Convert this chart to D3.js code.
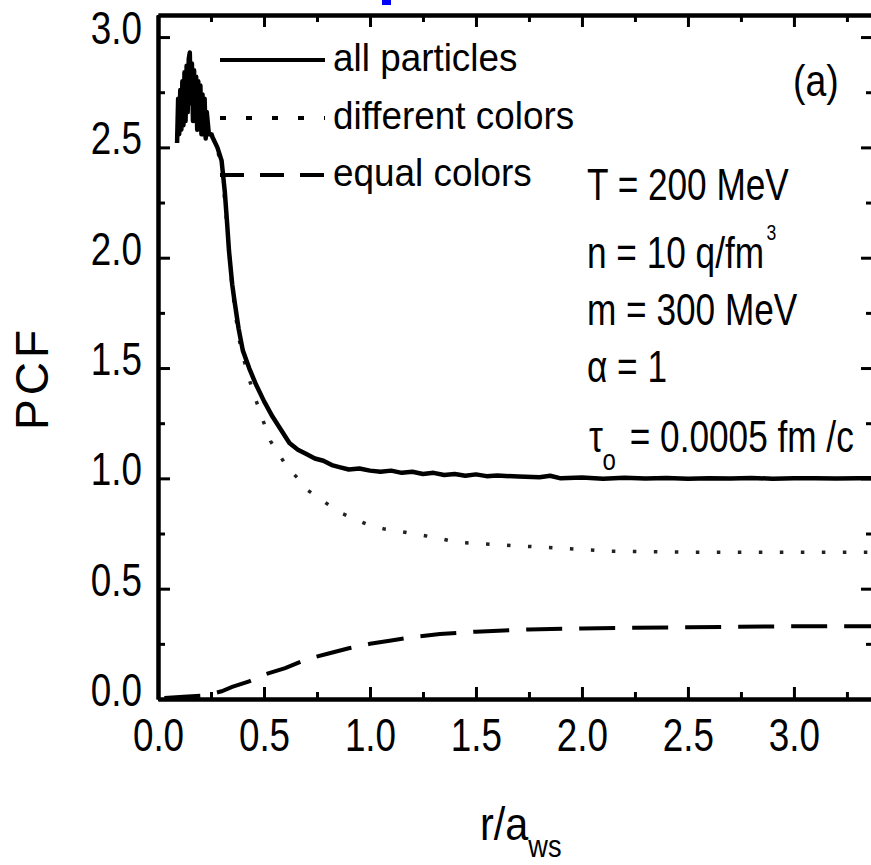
<!DOCTYPE html>
<html><head><meta charset="utf-8">
<script src="https://cdnjs.cloudflare.com/ajax/libs/d3/7.8.5/d3.min.js"></script>
<style>
html,body{margin:0;padding:0;background:#fff;}
svg{display:block;}
text{font-family:"Liberation Sans",Arial,sans-serif;}
</style>
</head><body>
<svg id="chart" width="871" height="865"></svg>
<script>
// ---------- data ----------
const allR = [0.09,0.095,0.10,0.105,0.11,0.115,0.12,0.125,0.13,0.135,0.14,0.145,0.15,0.155,0.16,0.165,0.17,0.175,0.18,0.185,0.19,0.195,0.20,0.205,0.21,0.215,0.22,0.225,0.23,0.24,0.25,0.26,0.28,0.30,0.315,0.325,0.335,0.35,0.36,0.38,0.40,0.43,0.46,0.50,0.54,0.58,0.62,0.66,0.70,0.74,0.78,0.82,0.86,0.90,0.95,1.00,1.05,1.10,1.15,1.20,1.25,1.30,1.35,1.40,1.45,1.50,1.55,1.60,1.70,1.80,1.85,1.90,2.0,2.1,2.2,2.3,2.4,2.5,2.6,2.7,2.8,2.9,3.0,3.1,3.2,3.3,3.37];
const allV = [2.52,2.72,2.56,2.76,2.58,2.80,2.60,2.84,2.62,2.87,2.66,2.90,2.93,2.70,2.88,2.62,2.85,2.62,2.82,2.58,2.80,2.60,2.78,2.56,2.74,2.56,2.72,2.54,2.66,2.56,2.56,2.54,2.50,2.44,2.30,2.17,2.03,1.88,1.81,1.68,1.58,1.50,1.43,1.35,1.28,1.22,1.16,1.13,1.11,1.09,1.08,1.06,1.05,1.04,1.045,1.035,1.03,1.035,1.025,1.03,1.02,1.025,1.015,1.02,1.012,1.018,1.01,1.013,1.008,1.005,1.012,1.0,1.004,0.998,1.003,0.999,1.002,0.998,1.001,0.999,1.002,0.998,1.0,1.0,0.999,1.0,1.0];

const diffR = [0.09,0.12,0.15,0.18,0.21,0.24,0.27,0.30,0.325,0.35,0.38,0.42,0.46,0.50,0.53,0.57,0.61,0.66,0.70,0.76,0.82,0.87,0.93,0.99,1.07,1.14,1.26,1.34,1.41,1.59,1.87,2.13,2.57,3.0,3.37];
const diffV = [2.55,2.75,2.88,2.78,2.66,2.60,2.52,2.42,2.15,1.86,1.64,1.48,1.36,1.25,1.17,1.11,1.05,1.00,0.95,0.91,0.87,0.84,0.815,0.79,0.77,0.76,0.74,0.725,0.71,0.70,0.685,0.67,0.665,0.665,0.665];

const eqR = [0.03,0.12,0.20,0.26,0.30,0.35,0.43,0.50,0.60,0.70,0.80,0.90,1.00,1.10,1.20,1.33,1.50,1.75,2.0,2.5,3.0,3.37];
const eqV = [0.005,0.01,0.015,0.025,0.035,0.055,0.08,0.11,0.14,0.18,0.205,0.23,0.25,0.265,0.28,0.295,0.305,0.315,0.32,0.325,0.33,0.33];

const xMajor = [0,0.5,1.0,1.5,2.0,2.5,3.0];
const xMinor = [0.25,0.75,1.25,1.75,2.25,2.75,3.25];
const yMajor = [0,0.5,1.0,1.5,2.0,2.5,3.0];
const yMinor = [0.25,0.75,1.25,1.75,2.25,2.75];
const seriesNames = ["all particles","different colors","equal colors"];
const annotations = ["T = 200  MeV","n = 10 q/fm","m = 300 MeV","α = 1"];

// ---------- helpers ----------
function condense(sel, f){
  sel.each(function(){
    const L0 = this.getComputedTextLength();
    d3.select(this).attr("textLength", (L0*f).toFixed(1)).attr("lengthAdjust","spacingAndGlyphs");
  });
}

// ---------- layout ----------
const svg = d3.select("#chart");
const L=158, R=873, T=15, B=699;
const x = d3.scaleLinear().domain([0,3.373]).range([L,R]);
const y = d3.scaleLinear().domain([0,3.1]).range([B,T]);
const fmt = d3.format(".1f");

// blue artifact from cropped caption
svg.append("rect").attr("x",382).attr("y",0).attr("width",9).attr("height",5).attr("fill","#0000ff");

// ---------- curves ----------
const line = d3.line().x(d=>x(d[0])).y(d=>y(d[1]));
const curves = svg.append("g");
curves.append("path").datum(eqR.map((r,i)=>[r,eqV[i]])).attr("d",line)
  .attr("fill","none").attr("stroke","#000").attr("stroke-width",4).attr("stroke-dasharray","36 17");
curves.append("path").datum(diffR.map((r,i)=>[r,diffV[i]])).attr("d",line)
  .attr("fill","none").attr("stroke","#222").attr("stroke-width",3.5).attr("stroke-dasharray","3.5 17.5");
curves.append("path").datum(allR.map((r,i)=>[r,allV[i]])).attr("d",line)
  .attr("fill","none").attr("stroke","#000").attr("stroke-width",4.5).attr("stroke-linejoin","round");

// ---------- axes ----------
function styleAxis(g, w){
  g.select(".domain").attr("stroke","#000").attr("stroke-width",w);
  g.selectAll(".tick line").attr("stroke","#000").attr("stroke-width",3);
}
// bottom
const gb = svg.append("g").attr("transform",`translate(0,${B})`)
  .call(d3.axisBottom(x).tickValues(xMajor).tickSize(-12).tickSizeOuter(0).tickPadding(19).tickFormat(fmt));
styleAxis(gb,4);
gb.selectAll("text").attr("font-family","Liberation Sans, Arial, sans-serif").attr("font-size",46).attr("fill","#000");
condense(gb.selectAll("text"),0.8);
const gbm = svg.append("g").attr("transform",`translate(0,${B})`)
  .call(d3.axisBottom(x).tickValues(xMinor).tickSize(-7).tickSizeOuter(0).tickFormat(""));
styleAxis(gbm,4);
// top
const gt = svg.append("g").attr("transform",`translate(0,${T})`)
  .call(d3.axisTop(x).tickValues(xMajor).tickSize(-12).tickSizeOuter(0).tickFormat(""));
styleAxis(gt,4);
const gtm = svg.append("g").attr("transform",`translate(0,${T})`)
  .call(d3.axisTop(x).tickValues(xMinor).tickSize(-7).tickSizeOuter(0).tickFormat(""));
styleAxis(gtm,4);
// left
const gl = svg.append("g").attr("transform",`translate(${L},0)`)
  .call(d3.axisLeft(y).tickValues(yMajor).tickSize(-12).tickSizeOuter(0).tickPadding(16).tickFormat(fmt));
styleAxis(gl,4);
gl.selectAll("text").attr("font-family","Liberation Sans, Arial, sans-serif").attr("font-size",46).attr("fill","#000").attr("dy","0.14em");
condense(gl.selectAll("text"),0.8);
const glm = svg.append("g").attr("transform",`translate(${L},0)`)
  .call(d3.axisLeft(y).tickValues(yMinor).tickSize(-7).tickSizeOuter(0).tickFormat(""));
styleAxis(glm,4);
// right
const gr = svg.append("g").attr("transform",`translate(${R},0)`)
  .call(d3.axisRight(y).tickValues(yMajor).tickSize(-12).tickSizeOuter(0).tickFormat(""));
styleAxis(gr,4);
const grm = svg.append("g").attr("transform",`translate(${R},0)`)
  .call(d3.axisRight(y).tickValues(yMinor).tickSize(-7).tickSizeOuter(0).tickFormat(""));
styleAxis(grm,4);

// ---------- axis titles ----------
const xl = svg.append("text").attr("x",480).attr("y",840).attr("font-size",46).attr("fill","#000");
const xl1 = xl.append("tspan").text("r/a");
condense(xl1,0.9);
const xl2 = xl.append("tspan").attr("font-size",32).attr("dy",17).text("ws");
condense(xl2,0.85);
svg.append("text").attr("font-size",46).attr("letter-spacing",4).attr("fill","#000")
  .attr("text-anchor","middle")
  .attr("transform","translate(48,378) rotate(-90)").text("PCF");

// ---------- legend ----------
const legY = [60,118,175];
const legDash = [null,"6 20","24 16"];
const legW = [4,4,4];
const leg = svg.append("g");
seriesNames.forEach((s,i)=>{
  leg.append("line").attr("x1",220).attr("x2",325).attr("y1",legY[i]).attr("y2",legY[i])
    .attr("stroke","#000").attr("stroke-width",legW[i]).attr("stroke-dasharray",legDash[i]);
  const t = leg.append("text").attr("x",333).attr("y",legY[i]+11).attr("font-size",38).attr("fill","#000").text(s);
  condense(t,0.97);
});

// ---------- annotations ----------
const annY = [200,268,325,382];
annotations.forEach((a,i)=>{
  const t = svg.append("g").attr("transform",`translate(587,${annY[i]}) scale(0.8,1)`)
    .append("text").attr("x",0).attr("y",0).attr("font-size",44).attr("fill","#000");
  t.append("tspan").text(a);
  if(i===1){
    t.append("tspan").attr("font-size",22).attr("dx",3).attr("dy",-28).text("3");
  }
});
const tau = svg.append("g").attr("transform","translate(589,452) scale(0.8,1)")
  .append("text").attr("x",0).attr("y",0).attr("font-size",44).attr("fill","#000");
tau.append("tspan").attr("x",0).text("τ");
tau.append("tspan").attr("x",17).attr("font-size",30).attr("dy",18).text("o");
tau.append("tspan").attr("x",51).attr("dy",-18).text("= 0.0005 fm /c");
svg.append("g").attr("transform","translate(793,96) scale(0.85,1)")
  .append("text").attr("font-size",44).attr("fill","#000").text("(a)");
</script>
</body></html>
